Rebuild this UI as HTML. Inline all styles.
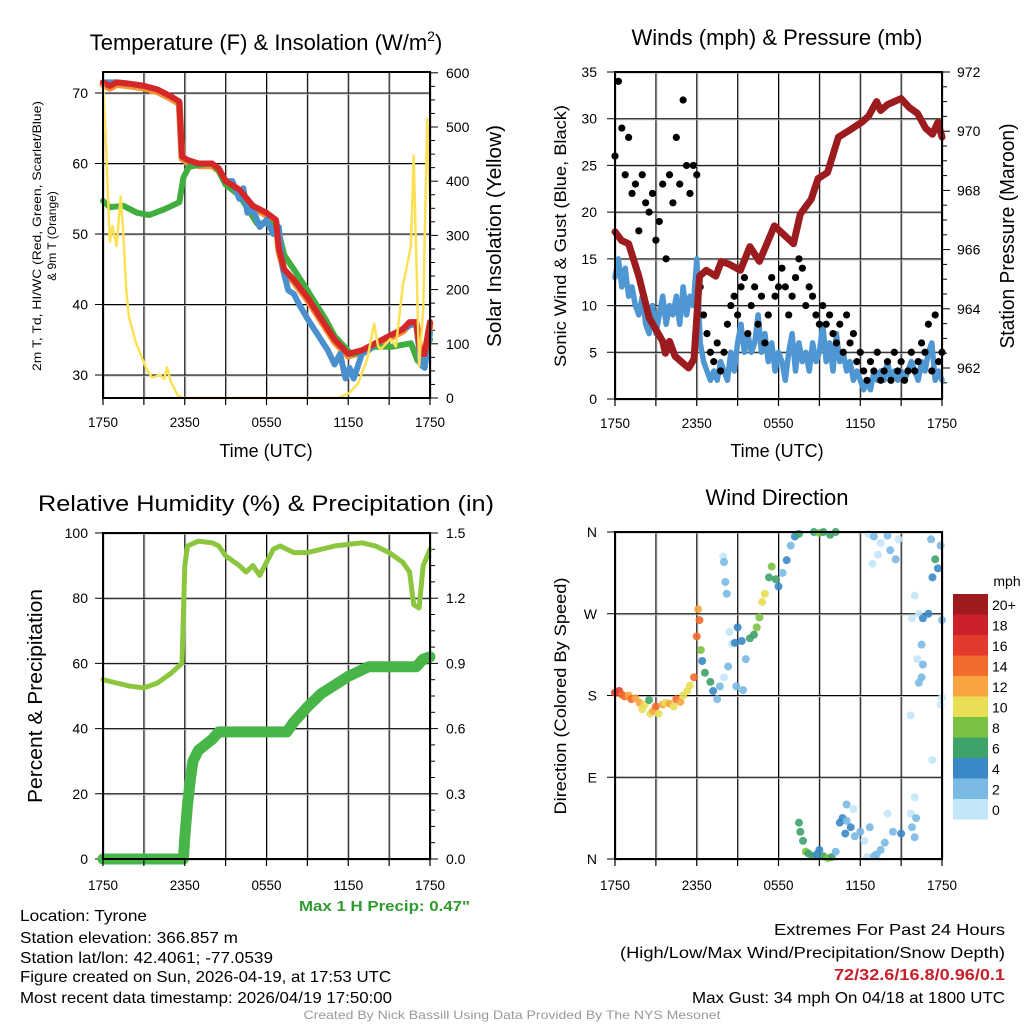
<!DOCTYPE html>
<html><head><meta charset="utf-8"><style>
html,body{margin:0;padding:0;background:#fff;}
svg{display:block;font-family:"Liberation Sans",Arial,sans-serif;}
</style></head><body>
<svg id="root" width="1024" height="1024" viewBox="0 0 1024 1024" xmlns="http://www.w3.org/2000/svg"></svg>
<script>
// ---------- DATA ----------
const tickLabels = ["1750","2350","0550","1150","1750"];
const tempT = [0,0.5,1,2,3,4,5,5.6,5.8,6.2,7,8,8.5,9,10,11,12,12.7,12.9,13.3,14,15,16,17,17.5,18,19,20,21,22,22.5,23,23.3,23.6,24];
const tempV = [71.5,71,71.5,71.3,71,70.5,69.5,68.8,61,60.5,60,60,59.3,57.5,56.3,54,53,52,48,45,43.5,41,38,35,34,33,33.5,34.5,35.5,36.5,37.5,37.5,33,33,37.5];
const dewT = [0,0.5,1.5,2.5,3.4,4.5,5.6,5.9,6.3,7,8,8.5,9,10,11.3,12.3,12.8,13.3,14,15,16.3,17,18.2,19,19.9,21.2,22.6,23.1,23.4,24];
const dewV = [54.7,53.8,54,53,52.7,53.5,54.5,58,59.5,59.8,60,59,57,55.5,51.5,51.5,51,47,45,42,38,35.5,33,33.2,34,34,34.5,32,32.5,35];
const hiT = [0,1,2,3,4,5,5.6,5.8,6.2,7,8,8.5,9,9.5,10,10.3,10.6,11,11.5,12,12.5,12.9,13.2,13.6,14,14.4,15,15.5,16,16.5,17,17.4,17.8,18.1,18.4,19,19.5,20,21,22,22.5,23,23.3,23.6,24];
const hiV = [71.5,71.5,71.3,71,70.5,69.5,68.8,61,60.5,60,60,59.3,57.5,57.5,55,56.5,53,53.5,51,52,50,51,45,42,41.5,40,38,36.5,35,33.5,31.5,33,29.5,31,29.5,33,33.5,34.5,35.5,36.5,37,37.5,31.5,31,36];
const solarT = [0,0.2,0.5,0.7,1.0,1.3,1.5,1.7,1.9,2.4,3.2,3.6,4.2,4.5,4.7,5.0,5.5,6,10,17.2,18.0,18.7,19.4,19.9,20.2,20.4,21.1,21.5,22,22.6,22.8,23.0,23.2,23.5,23.8,24];
const solarV = [580,480,288,317,280,372,300,201,150,103,53,38,42,35,57,29,4,0,0,0,8,26,72,137,95,90,109,95,207,280,447,250,59,164,515,361];
const presT = [0,0.5,1,1.75,2.5,3.5,3.7,4.0,4.4,5.4,5.8,6.2,6.7,7.4,7.8,8.4,9.2,9.9,10.6,11.7,12.4,13.1,13.6,14.4,14.9,15.6,16.4,17.1,18.1,18.6,19.2,19.5,20,20.5,21,21.6,22.2,22.8,23.3,23.7,24];
const presV = [966.6,966.3,966.2,965.1,963.7,962.9,962.5,962.9,962.4,962.0,962.3,965.1,965.3,965.1,965.6,965.5,965.3,966.1,965.6,966.8,966.5,966.2,967.2,967.7,968.4,968.6,969.8,970.0,970.3,970.5,971.0,970.7,970.9,971.0,971.1,970.8,970.6,970.1,969.9,970.3,969.8];
const windV = [13,15,12,14,11,12,10,9,11,8,7,10,7,9,11,8,10,9,11,8,12,9,11,10,15,6,4,3,2,3,2,4,3,2,5,3,6,8,5,7,5,6,9,5,7,4,6,3,5,4,2,5,7,3,6,4,5,3,6,4,5,8,4,6,3,7,4,5,3,4,2,3,2,1,2,1,3,2,3,2,4,2,3,2,3,2,3,4,3,2,4,3,5,6,2,3,2];
const gustV = [26,34,29,24,28,22,23,18,24,21,20,22,17,19,23,15,24,21,28,23,32,25,22,25,24,12,9,7,5,4,6,3,5,8,10,11,9,12,13,7,10,12,8,11,6,9,13,11,12,14,12,9,11,13,15,14,10,12,11,9,8,10,8,9,7,6,8,5,9,6,7,4,5,3,2,4,3,5,2,3,4,2,5,3,4,2,3,5,3,4,6,5,8,3,9,4,5];
const rhT = [0,1,2,3,4,5,5.8,6.0,6.2,7,8,8.5,9,10,10.5,11,11.5,12,12.5,13,14,15,16,17,18,19,20,21,22,22.5,22.8,23.2,23.5,24];
const rhV = [55,54,53,52.5,54,57,60,90,96,97.5,97,96,93,90,88,90,87,91,95,96,94,94,95,96,96.5,97,96,94,91,88,78,77,90,95];
const pcpT = [0,5.9,6.0,6.2,6.4,6.6,7,8,8.5,13.5,14,15,16,17,18,19,19.5,23,23.5,24];
const pcpV = [0,0,0.1,0.25,0.36,0.45,0.5,0.55,0.585,0.585,0.63,0.7,0.76,0.8,0.84,0.87,0.885,0.885,0.92,0.93];
const dirT = [0,0.3,0.5,0.7,1.0,1.2,1.5,1.8,2.0,2.2,2.5,2.6,2.8,3.0,3.2,3.5,3.7,4.0,4.3,4.5,4.8,5.0,5.3,5.5,5.8,6.0,6.2,6.1,6.4,6.3,6.6,7.0,7.2,7.5,7.7,8.0,8.3,8.6,8.8,9.0,9.3,9.6,9.9,10.2,10.4,10.6,10.8,11.0,11.3,11.5,11.8,12.0,12.3,12.6,12.9,13.2,13.5,14.6,15,15.3,15.8,16.2,13.5,13.6,13.8,14.0,14.2,14.5,14.8,15.0,15.3,15.6,15.9,16.2,16.5,16.7,17.0,17.3,17.6,17.0,17.5,18.0,18.3,18.5,19.0,19.2,19.5,18.7,16.9,18.6,19.0,19.5,18.9,19.3,20.0,20.2,20.6,20.8,22.0,21.8,22.3,22.6,22.5,22.2,22.6,22.3,22.5,23.0,23.3,23.5,23.7,23.2,23.9,24,24,23.9,21.7,21.0,22.0,21.7,20.4,19.8,20.0,22.1,21.8,22.0,23.3,7.95,8.0,8.1,8.2,8.4,8.9,9.4];
const dirV = [183,185,181,179,180,176,177,172,165,170,175,160,163,168,160,170,172,171,168,176,173,180,185,191,200,245,263,275,218,230,205,195,185,176,190,200,212,237,238,255,240,220,243,247,255,266,283,292,310,322,308,300,315,329,345,355,358,360,359,360,357,360,40,30,20,8,6,3,5,10,3,1,2,8,40,45,42,35,25,60,55,30,20,2,3,5,10,35,28,358,355,348,325,335,356,340,330,352,290,265,270,265,236,220,214,194,200,270,310,330,320,352,345,263,178,170,158,28,68,50,30,18,50,45,35,24,109,333,327,305,292,250,190,186];
const dirS = [15,16,14,13,12,13,12,11,10,9,6,10,12,14,10,12,10,12,10,13,12,10,10,9,14,14,14,12,4,7,6,6,4,1,1,0,2,0,4,3,4,2,6,6,8,8,9,10,6,8,6,4,2,4,2,4,6,6,8,6,6,6,6,6,6,8,6,6,4,4,6,8,6,2,4,4,2,4,2,2,0,2,0,0,2,2,2,2,4,0,2,0,0,0,2,2,2,0,0,0,0,4,2,0,2,2,2,4,4,6,4,2,2,2,0,0,0,4,0,0,2,2,0,2,2,2,0,0,2,2,2,0,2,2];
const cbLabels = ["20+","18","16","14","12","10","8","6","4","2","0"];
const cbColors = ["#9e1a1d","#c9202a","#e23b2e","#f26a2c","#f9a443","#e8df56","#7cc242","#3ea36a","#3b88c6","#7ab9e4","#c3e6f8"];

// ---------- HELPERS ----------
const NS = "http://www.w3.org/2000/svg";
const root = document.getElementById("root");
function mk(tag, attrs, name, parent) {
  const el = document.createElementNS(NS, tag);
  for (const k in attrs) el.setAttribute(k, attrs[k]);
  
  
  (parent || root).appendChild(el);
  return el;
}
function txt(x, y, s, size, name, opts) {
  opts = opts || {};
  const a = {x: x, y: y, "font-size": size, fill: opts.fill || "#000", "text-anchor": opts.anchor || "middle"};
  if (opts.weight) a["font-weight"] = opts.weight;
  if (opts.len) { a.textLength = opts.len; a.lengthAdjust = "spacingAndGlyphs"; }
  if (opts.rot) a.transform = "rotate(-90 " + x + " " + y + ")";
  const el = mk("text", a, name);
  el.textContent = s;
  return el;
}
function panel(px0, px1, py0, py1, id) {
  const g = mk("g", {}, id + "-plot-area");
  for (let h = 0; h <= 24; h += 3) {
    const x = px0 + (px1 - px0) * h / 24;
    mk("line", {x1: x + 1, y1: py0, x2: x + 1, y2: py1, stroke: "#bbb", "stroke-width": 1}, id + "-grid-shadow", g);
    mk("line", {x1: x, y1: py0, x2: x, y2: py1, stroke: "#000", "stroke-width": 1}, id + "-vgrid", g);
  }
  return g;
}
function xAxis(px0, px1, py1, id, ly) {
  for (let h = 0; h <= 24; h += 3) {
    const x = px0 + (px1 - px0) * h / 24;
    mk("line", {x1: x, y1: py1, x2: x, y2: py1 + 7, stroke: "#000", "stroke-width": 1.2}, id + "-x-tick");
  }
  tickLabels.forEach((l, i) => {
    const x = px0 + (px1 - px0) * i / 4;
    txt(x, ly, l, 14, id + "-x-tick-label", {len: 30});
  });
}
function hgrid(px0, px1, y, id) {
  mk("line", {x1: px0, y1: y + 1, x2: px1, y2: y + 1, stroke: "#bbb", "stroke-width": 1}, id + "-grid-shadow");
  mk("line", {x1: px0 - 8, y1: y, x2: px1, y2: y, stroke: "#000", "stroke-width": 1}, id + "-hgrid");
}
function box(px0, px1, py0, py1, id) {
  mk("rect", {x: px0, y: py0, width: px1 - px0, height: py1 - py0, fill: "none", stroke: "#000", "stroke-width": 2}, id + "-frame");
}
function poly(ts, vs, fx, fy, color, w, name, opacity) {
  const pts = ts.map((t, i) => fx(t).toFixed(1) + "," + fy(vs[i]).toFixed(1)).join(" ");
  mk("polyline", {points: pts, fill: "none", stroke: color, "stroke-width": w, "stroke-linejoin": "round", "stroke-linecap": "round", opacity: opacity || 1}, name);
}

// ---------- PANEL 1 ----------
{
  const X0 = 103, X1 = 430, Y0 = 72, Y1 = 398;
  const fx = t => X0 + (X1 - X0) * t / 24;
  const fy = v => 375 - (v - 30) * 7.05;
  const fs = w => Y1 - w * 0.542;
  panel(X0, X1, Y0, Y1, "temp");
  [30, 40, 50, 60, 70].forEach(v => { hgrid(X0, X1, fy(v), "temp"); txt(88, fy(v) + 5, String(v), 14, "temp-y-tick-label", {anchor: "end"}); });
  for (let w = 0; w <= 600; w += 25) {
    const big = w % 100 === 0;
    mk("line", {x1: X1, y1: fs(w), x2: X1 + (big ? 8 : 5), y2: fs(w), stroke: "#000", "stroke-width": 1}, "solar-y-tick");
    if (big) txt(446, fs(w) + 5, String(w), 14, "solar-y-tick-label", {anchor: "start"});
  }
  poly(tempT, tempV.map(v => v - 0.3), fx, fy, "#f39232", 7, "9m-temp-line");
  poly(dewT, dewV, fx, fy, "#3fae3f", 6, "dewpoint-line");
  poly(hiT, hiV, fx, fy, "#4a90cc", 6, "heat-index-windchill-line");
  poly(tempT, tempV, fx, fy, "#d62728", 6, "temperature-line");
  poly(solarT, solarV, fx, fs, "#fde154", 2.5, "solar-insolation-line");
  box(X0, X1, Y0, Y1, "temp");
  xAxis(X0, X1, Y1, "temp", 427);
  const t = txt(266, 50, "Temperature (F) & Insolation (W/m", 22, "temp-panel-title");
  const sup = document.createElementNS(NS, "tspan"); sup.setAttribute("dy", "-9"); sup.setAttribute("font-size", "14"); sup.textContent = "2"; t.appendChild(sup);
  const cl = document.createElementNS(NS, "tspan"); cl.setAttribute("dy", "9"); cl.textContent = ")"; t.appendChild(cl);
  txt(266, 457, "Time (UTC)", 18, "temp-x-axis-title");
  txt(41, 236, "2m T, Td, HI/WC (Red, Green, Scarlet/Blue)", 12, "temp-y-axis-title", {rot: true, len: 270});
  txt(56, 236, "& 9m T (Orange)", 12, "temp-y-axis-title-line2", {rot: true});
  txt(501, 236, "Solar Insolation (Yellow)", 20, "solar-y-axis-title", {rot: true, len: 222});
}

// ---------- PANEL 2 ----------
{
  const X0 = 615, X1 = 942, Y0 = 72, Y1 = 399;
  const fx = t => X0 + (X1 - X0) * t / 24;
  const fy = v => Y1 - v * 9.343;
  const fp = p => Y0 + (972 - p) * 29.6;
  panel(X0, X1, Y0, Y1, "wind");
  [0, 5, 10, 15, 20, 25, 30, 35].forEach(v => { hgrid(X0, X1, fy(v), "wind"); txt(597, fy(v) + 5, String(v), 14, "wind-y-tick-label", {anchor: "end"}); });
  for (let p = 961.5; p <= 972; p += 0.5) {
    const big = Math.abs(p % 2) < 0.01;
    mk("line", {x1: X1, y1: fp(p), x2: X1 + (big ? 8 : 5), y2: fp(p), stroke: "#000", "stroke-width": 1}, "pressure-y-tick");
    if (big) txt(957, fp(p) + 5, String(p), 14, "pressure-y-tick-label", {anchor: "start"});
  }
  poly(windV.map((v, i) => i * 0.25), windV, fx, fy, "#4f97d3", 5.5, "sonic-wind-line");
  gustV.forEach((v, i) => {
    mk("circle", {cx: fx(i * 0.25), cy: fy(v), r: 3.6, fill: "#000"}, "gust-point");
  });
  poly(presT, presV, fx, fp, "#9b1b1e", 7, "pressure-line");
  box(X0, X1, Y0, Y1, "wind");
  xAxis(X0, X1, Y1, "wind", 428);
  txt(777, 45, "Winds (mph) & Pressure (mb)", 22, "wind-panel-title");
  txt(777, 457, "Time (UTC)", 18, "wind-x-axis-title");
  txt(566, 236, "Sonic Wind & Gust (Blue, Black)", 17, "wind-y-axis-title", {rot: true, len: 262});
  txt(1014, 236, "Station Pressure (Maroon)", 20, "pressure-y-axis-title", {rot: true, len: 225});
}

// ---------- PANEL 3 ----------
{
  const X0 = 103, X1 = 430, Y0 = 533, Y1 = 859;
  const fx = t => X0 + (X1 - X0) * t / 24;
  const fy = v => Y1 - v * 3.26;
  const fpc = v => Y1 - v / 1.5 * 326;
  panel(X0, X1, Y0, Y1, "rh");
  [0, 20, 40, 60, 80, 100].forEach(v => { hgrid(X0, X1, fy(v), "rh"); txt(88, fy(v) + 5, String(v), 14, "rh-y-tick-label", {anchor: "end"}); });
  for (let p = 0; p <= 1.5001; p += 0.075) {
    const big = Math.abs((p / 0.3) - Math.round(p / 0.3)) < 0.01;
    mk("line", {x1: X1, y1: fpc(p), x2: X1 + (big ? 8 : 5), y2: fpc(p), stroke: "#000", "stroke-width": 1}, "precip-y-tick");
    if (big) txt(446, fpc(p) + 5, p.toFixed(1), 14, "precip-y-tick-label", {anchor: "start"});
  }
  poly(rhT, rhV, fx, fy, "#8cc63f", 5, "relative-humidity-line");
  poly(pcpT, pcpV, fx, fpc, "#48b548", 11, "precipitation-line");
  box(X0, X1, Y0, Y1, "rh");
  xAxis(X0, X1, Y1, "rh", 890);
  txt(266, 511, "Relative Humidity (%) & Precipitation (in)", 22, "rh-panel-title", {len: 456});
  txt(42, 696, "Percent & Precipitation", 20, "rh-y-axis-title", {rot: true, len: 214});
  txt(470, 911, "Max 1 H Precip: 0.47\"", 15, "max-precip-label", {anchor: "end", fill: "#2f9a2f", weight: "bold", len: 171});
}

// ---------- PANEL 4 ----------
{
  const X0 = 615, X1 = 942, Y0 = 532, Y1 = 859;
  const fx = t => X0 + (X1 - X0) * t / 24;
  const fy = d => Y1 - d * 0.9083;
  panel(X0, X1, Y0, Y1, "dir");
  [["N", 0], ["E", 90], ["S", 180], ["W", 270], ["N", 360]].forEach(a => { hgrid(X0, X1, fy(a[1]), "dir"); txt(597, fy(a[1]) + 5, a[0], 14, "dir-y-tick-label", {anchor: "end"}); });
  const colorFor = s => cbColors[10 - Math.min(10, Math.round(s / 2))];
  dirT.forEach((t, i) => {
    mk("circle", {cx: fx(t), cy: fy(dirV[i]), r: 4, fill: colorFor(dirS[i]), opacity: 0.9}, "wind-direction-point");
  });
  box(X0, X1, Y0, Y1, "dir");
  xAxis(X0, X1, Y1, "dir", 890);
  txt(777, 505, "Wind Direction", 22, "dir-panel-title");
  txt(566, 696, "Direction (Colored By Speed)", 17, "dir-y-axis-title", {rot: true, len: 237});
  cbColors.forEach((c, i) => {
    mk("rect", {x: 953, y: 594 + i * 20.5, width: 35, height: 20.5, fill: c}, "colorbar-swatch");
    txt(992, 594 + i * 20.5 + 16, cbLabels[i], 14, "colorbar-label", {anchor: "start"});
  });
  txt(1007, 586, "mph", 14, "colorbar-title");
}

// ---------- FOOTER ----------
const leftLines = [["Location: Tyrone", 127, 921], ["Station elevation: 366.857 m", 218, 943], ["Station lat/lon: 42.4061; -77.0539", 253, 963], ["Figure created on Sun, 2026-04-19, at 17:53 UTC", 371, 982], ["Most recent data timestamp: 2026/04/19 17:50:00", 372, 1003]];
leftLines.forEach(l => txt(20, l[2], l[0], 16, "station-info-line", {anchor: "start", len: l[1]}));
txt(1005, 935, "Extremes For Past 24 Hours", 16, "extremes-title", {anchor: "end", len: 231});
txt(1005, 958, "(High/Low/Max Wind/Precipitation/Snow Depth)", 16, "extremes-subtitle", {anchor: "end", len: 385});
txt(1005, 980, "72/32.6/16.8/0.96/0.1", 16, "extremes-values", {anchor: "end", fill: "#c8202a", weight: "bold", len: 171});
txt(1005, 1003, "Max Gust: 34 mph On 04/18 at 1800 UTC", 16, "max-gust-label", {anchor: "end", len: 313});
txt(512, 1019, "Created By Nick Bassill Using Data Provided By The NYS Mesonet", 12, "credit-line", {fill: "#999", len: 417});
</script>
</body></html>
